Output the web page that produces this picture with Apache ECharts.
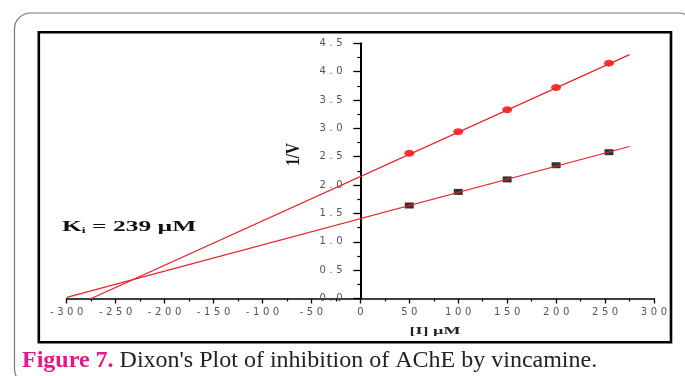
<!DOCTYPE html>
<html>
<head>
<meta charset="utf-8">
<script src="https://cdn.jsdelivr.net/npm/echarts@6/dist/echarts.min.js"></script>
<style>
html,body{margin:0;padding:0;background:#fff;}
#chart{width:685px;height:376px;}
</style>
</head>
<body>
<div id="chart"></div>
<script>
// ---- data ----
const concI = [50, 100, 150, 200, 254];            // [I] µM
const invVUpper = [2.56, 2.94, 3.33, 3.72, 4.15];  // 1/V, red circles
const invVLower = [1.64, 1.88, 2.10, 2.35, 2.58];  // 1/V, black squares
const fitUpperX = [-275, 275];
const fitUpperY = [0.0, 4.30];
const fitLowerX = [-300, 275];
const fitLowerY = [0.02, 2.68];
const xMin = -300, xMax = 300, xStep = 50;
const yMin = 0, yMax = 4.5, yStep = 0.5;
const kiText = ['K', 'i', ' = 239 µM'];
const xTitle = '[I] µM';
const yTitle = '1/V';
const captionBold = 'Figure 7.';
const captionRest = " Dixon's Plot of inhibition of AChE by vincamine.";

const pairs = (xs, ys) => xs.map((x, i) => [x, ys[i]]);
const spaced = s => String(s).split('').map(c => '{c|' + c + '}').join('');
const labelRich = { c: { fontFamily: 'DejaVu Sans', fontSize: 10, color: '#555', padding: [0, 1.8, 0, 1.8] } };

const gridLeft = 66.7, gridRight = 31;
const plotW = 685 - gridLeft - gridRight;
const yAxisShift = plotW * (0 - xMin) / (xMax - xMin); // place y axis at x = 0

const chart = echarts.init(document.getElementById('chart'), null, { renderer: 'canvas' });
chart.setOption({
  backgroundColor: '#fff',
  animation: false,
  grid: { left: gridLeft, right: gridRight, top: 43.3, bottom: 77.5, outerBoundsMode: 'none' },
  xAxis: {
    type: 'value', min: xMin, max: xMax, interval: xStep,
    axisLine: { onZero: false, lineStyle: { color: '#000', width: 1.6 } },
    axisTick: { show: true, length: 5, lineStyle: { color: '#000', width: 1.3 } },
    minorTick: { show: true, splitNumber: 2, length: 3, lineStyle: { color: '#000', width: 1.2 } },
    splitLine: { show: false },
    axisLabel: { margin: 9, formatter: v => spaced(v), rich: labelRich }
  },
  yAxis: {
    type: 'value', min: yMin, max: yMax, interval: yStep,
    position: 'left', offset: -yAxisShift,
    axisLine: { onZero: false, lineStyle: { color: '#000', width: 2 } },
    axisTick: { show: true, length: 7, lineStyle: { color: '#000', width: 1.3 } },
    minorTick: { show: true, splitNumber: 2, length: 3, lineStyle: { color: '#000', width: 1.2 } },
    splitLine: { show: false },
    axisLabel: { margin: 16, formatter: v => spaced(v.toFixed(1)), rich: labelRich }
  },
  series: [
    { type: 'scatter', data: pairs(concI, invVUpper), symbol: 'circle', symbolSize: [10, 7],
      itemStyle: { color: '#ff0000' }, z: 2 },
    { type: 'scatter', data: pairs(concI, invVLower), symbol: 'rect', symbolSize: [9, 6],
      itemStyle: { color: '#000' }, z: 2 },
    { type: 'line', data: pairs(fitUpperX, fitUpperY), symbol: 'none',
      lineStyle: { color: '#e8212b', width: 1.2 }, z: 3 },
    { type: 'line', data: pairs(fitLowerX, fitLowerY), symbol: 'none',
      lineStyle: { color: '#e8212b', width: 1.2 }, z: 3 }
  ],
  graphic: [
    { type: 'rect', shape: { x: 14.5, y: 13, width: 680, height: 372, r: 16 },
      style: { fill: 'none', stroke: '#777', lineWidth: 1.2 }, z: 0, silent: true },
    { type: 'rect', shape: { x: 38.8, y: 32.2, width: 632.2, height: 310.1 },
      style: { fill: 'none', stroke: '#000', lineWidth: 2.6 }, z: 1, silent: true },
    { type: 'text', x: 62, y: 227, scaleX: 1.7, silent: true,
      style: {
        text: '{k|' + kiText[0] + '}{s|' + kiText[1] + '}{t|' + kiText[2] + '}',
        verticalAlign: 'middle', align: 'left',
        rich: {
          k: { fontFamily: 'Liberation Serif', fontWeight: 'bold', fontSize: 15, fill: '#111' },
          s: { fontFamily: 'Liberation Serif', fontWeight: 'bold', fontSize: 8, fill: '#111', verticalAlign: 'bottom', lineHeight: 9 },
          t: { fontFamily: 'Liberation Serif', fontWeight: 'bold', fontSize: 15, fill: '#111' }
        }
      } },
    { type: 'text', x: 294, y: 154.5, rotation: Math.PI / 2, scaleY: 1.2, silent: true,
      style: { text: yTitle, font: 'bold 15px "Liberation Serif"', fill: '#111', align: 'center', verticalAlign: 'middle' } },
    { type: 'text', x: 435, y: 331.5, scaleX: 1.8, silent: true,
      style: { text: xTitle, font: 'bold 10px "Liberation Serif"', fill: '#222', align: 'center', verticalAlign: 'middle' } },
    { type: 'text', x: 22, y: 360.6, silent: true,
      style: {
        text: '{f|' + captionBold + '}{t|' + captionRest + '}',
        verticalAlign: 'middle', align: 'left',
        rich: {
          f: { fontFamily: 'Liberation Serif', fontWeight: 'bold', fontSize: 24, fill: '#e5188a' },
          t: { fontFamily: 'Liberation Serif', fontSize: 24, fill: '#222' }
        }
      } }
  ]
});
</script>
</body>
</html>
